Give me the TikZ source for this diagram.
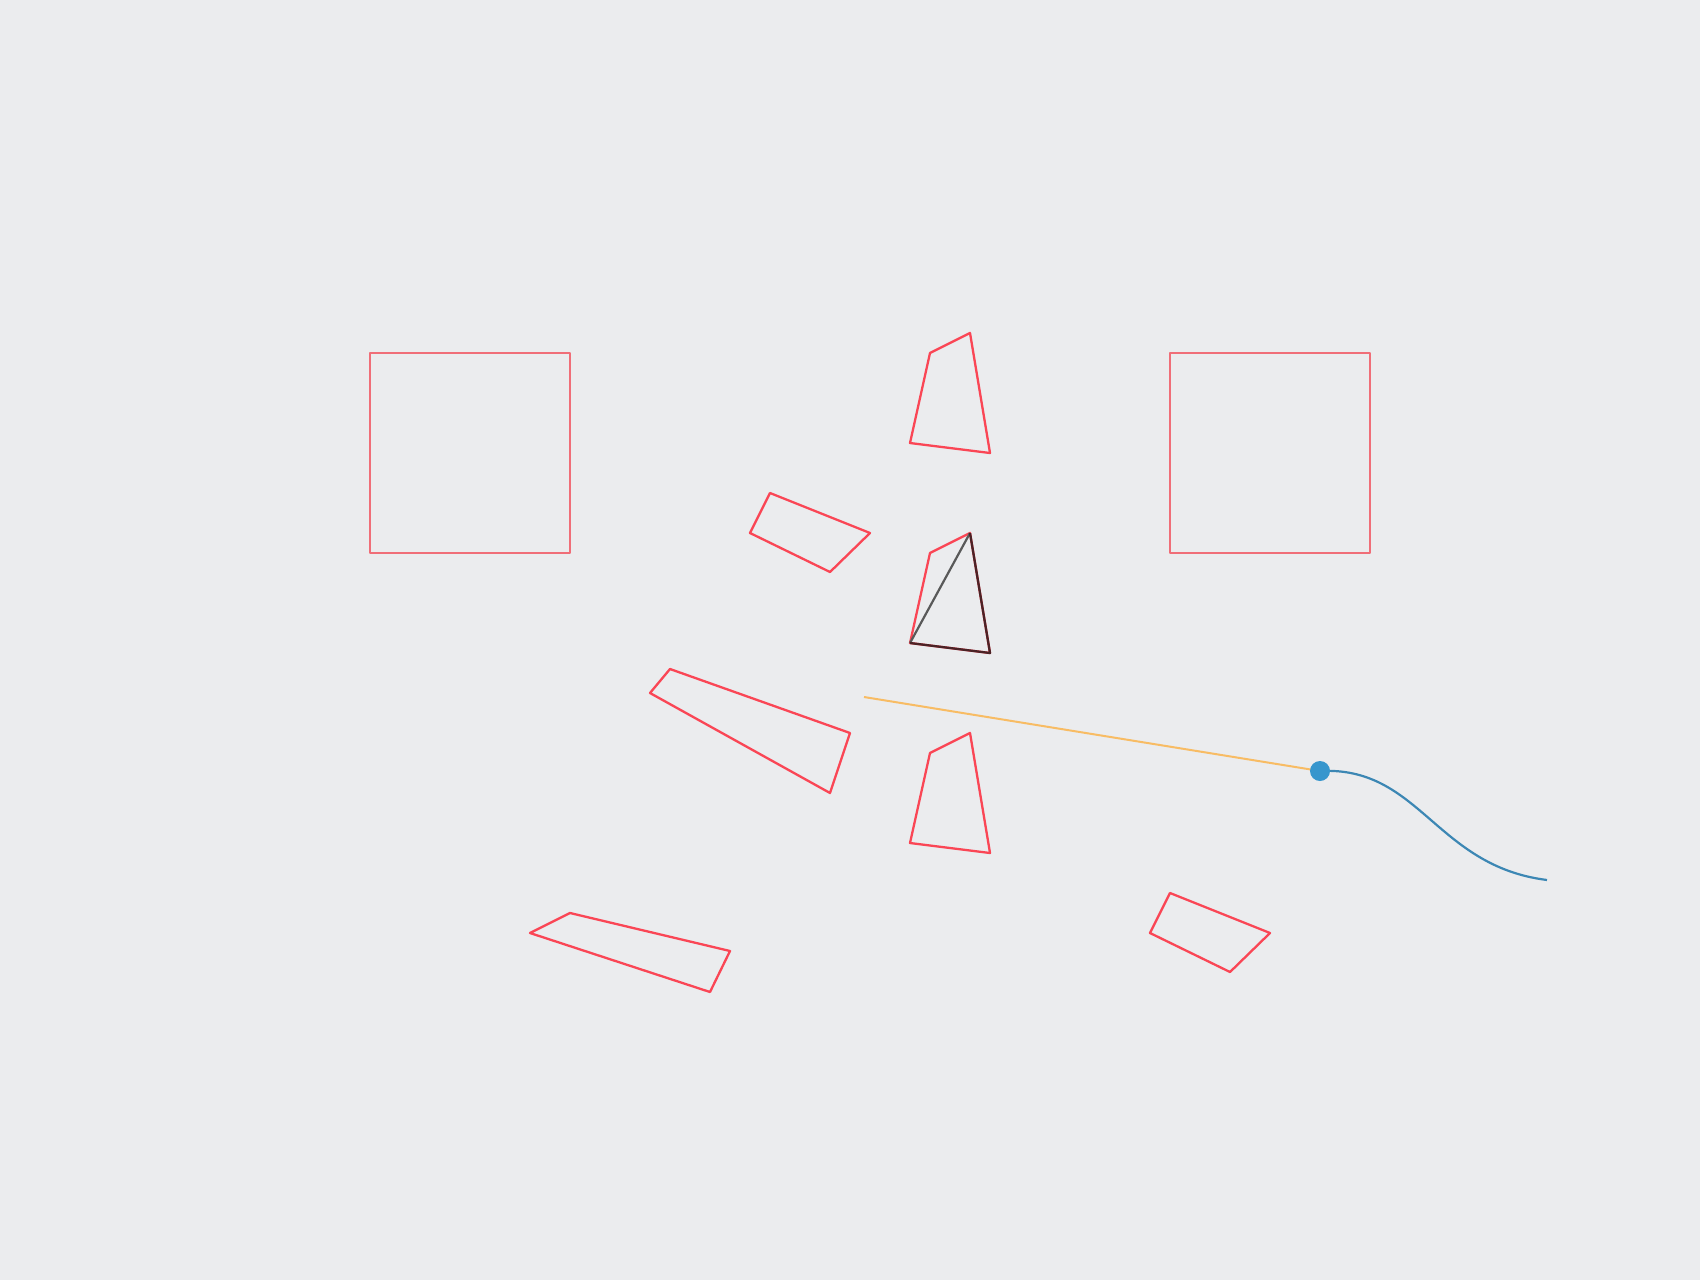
\documentclass[tikz,border=0pt]{standalone}
\begin{document}
\begin{tikzpicture}[x=1pt,y=-1pt,
  redpoly/.style={line width=2.3pt, line join=round},
  sq/.style={line width=2.6pt, line join=round},
  darkedge/.style={line width=2.3pt, line join=round},
  diag/.style={draw=black!65, line width=2.2pt},
  orangeline/.style={line width=2pt},
  bluecurve/.style={line width=2.2pt},
  bluedot/.style={draw=none}]
\definecolor{bg}{HTML}{EBECEE}
\definecolor{sqred}{RGB}{240,110,120}
\definecolor{pred}{RGB}{250,70,85}
\definecolor{dred}{RGB}{75,35,38}
\definecolor{oline}{RGB}{248,188,100}
\definecolor{bcurve}{RGB}{60,135,180}
\definecolor{bdot}{RGB}{55,150,205}
\fill[bg] (0,0) rectangle (1700,1280);
\useasboundingbox (0,0) rectangle (1700,1280);
% squares
\draw[sq, draw=sqred] (370,353) rectangle (570,553);
\draw[sq, draw=sqred] (1170,353) rectangle (1370,553);
% column of quads
\draw[redpoly, draw=pred] (930,353) -- (970,333) -- (990,453) -- (910,443) -- cycle;
\draw[redpoly, draw=pred] (930,553) -- (970,533) -- (990,653) -- (910,643) -- cycle;
\draw[redpoly, draw=pred] (930,753) -- (970,733) -- (990,853) -- (910,843) -- cycle;
% dark triangle in middle quad
\coordinate (ta) at (970,533);
\coordinate (tb) at (990,653);
\coordinate (tc) at (910,643);
\draw[diag] (ta) -- (tc);
\draw[darkedge, draw=dred] (tc) -- (tb) -- (ta);
% other quads
\draw[redpoly, draw=pred] (770,493) -- (870,533) -- (830,572) -- (750,533) -- cycle;
\draw[redpoly, draw=pred] (1170,893) -- (1270,933) -- (1230,972) -- (1150,933) -- cycle;
\draw[redpoly, draw=pred] (670,669) -- (850,733) -- (830,793) -- (650,693) -- cycle;
\draw[redpoly, draw=pred] (570,913) -- (730,951) -- (710,992) -- (530,933) -- cycle;
% orange line, blue dot, curve
\coordinate (os) at (864,697);
\coordinate (dot) at (1320,771);
\coordinate (ce) at (1547,880);
\draw[bluecurve, draw=bcurve] (dot) .. controls (1420,766) and (1435,866) .. (ce);
\draw[orangeline, draw=oline] (os) -- (dot);
\fill[bluedot, fill=bdot] (dot) circle (10);
\end{tikzpicture}
\end{document}
